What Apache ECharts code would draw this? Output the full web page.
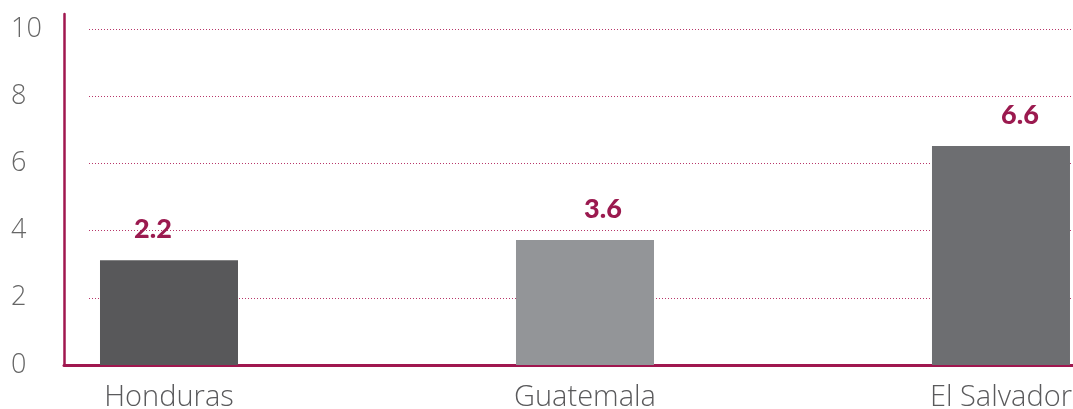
<!DOCTYPE html>
<html>
<head>
<meta charset="utf-8">
<script src="https://cdn.jsdelivr.net/npm/echarts@6/dist/echarts.min.js"></script>
<style>html,body{margin:0;padding:0;background:#fff}#c{width:1073px;height:409px}</style>
</head>
<body>
<div id="c"></div>
<script>
const categories = ['Honduras', 'Guatemala', 'El Salvador'];
const barValues = [3.12, 3.72, 6.52];
const valueLabels = ['2.2', '3.6', '6.6'];
const yTicks = [0, 2, 4, 6, 8, 10];

const barColors = ['#58585a', '#939598', '#6d6e71'];
const labelShift = [-16, 18, 19];
const crimson = '#a0174f';

const chart = echarts.init(document.getElementById('c'));
chart.setOption({
  animation: false,
  grid: [
    { left: 64, right: 0, top: 14, bottom: 44, outerBoundsMode: 'none', containLabel: false },
    { left: 89, right: 0, top: 29, bottom: 44, outerBoundsMode: 'none', containLabel: false }
  ],
  xAxis: [
    {
      gridIndex: 0, type: 'value', min: -0.2524, max: 2.1731,
      axisLine: { show: true, onZero: false, lineStyle: { color: crimson, width: 3 } },
      axisTick: { show: false },
      splitLine: { show: false },
      axisLabel: {
        customValues: [0, 1, 2],
        formatter: v => categories[Math.round(v)] || '',
        color: '#5a5a5c', fontFamily: 'Open Sans', fontWeight: 300, fontSize: 29, margin: 18
      }
    },
    { gridIndex: 1, type: 'value', min: 0, max: 1, show: false }
  ],
  yAxis: [
    {
      gridIndex: 0, type: 'value', min: 0, max: 10.45,
      axisLine: { show: true, onZero: false, lineStyle: { color: crimson, width: 2.5 } },
      axisTick: { show: false },
      axisLabel: { show: false },
      splitLine: { show: false }
    },
    {
      gridIndex: 1, type: 'value', min: yTicks[0], max: yTicks[yTicks.length - 1], interval: 2,
      axisLine: { show: false },
      axisTick: { show: false },
      axisLabel: {
        align: 'left', margin: 78,
        color: '#666666', fontFamily: 'Open Sans', fontWeight: 300, fontSize: 27
      },
      splitLine: { show: true, lineStyle: { color: '#b8376a', width: 1, type: [1, 2] } }
    }
  ],
  series: [
    {
      type: 'bar', xAxisIndex: 0, yAxisIndex: 0,
      barWidth: 138,
      data: barValues.map((v, i) => ({
        value: [i, v],
        itemStyle: { color: barColors[i] },
        label: { offset: [labelShift[i], 0] }
      })),
      label: {
        show: true, position: 'top', distance: 17,
        formatter: p => valueLabels[p.dataIndex],
        color: '#9b1a4f', fontFamily: 'Lato', fontWeight: 900, fontSize: 27
      },
      z: 3
    }
  ]
});
</script>
</body>
</html>
